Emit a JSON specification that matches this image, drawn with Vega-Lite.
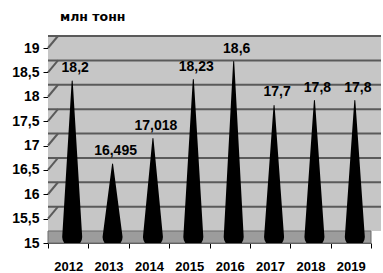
{
  "$schema": "https://vega.github.io/schema/vega-lite/v6.json",
  "width": 323,
  "height": 195,
  "autosize": {"type": "none"},
  "padding": {"left": 48, "top": 48, "right": 12, "bottom": 30},
  "background": "white",
  "title": {"text": "млн тонн", "anchor": "start", "frame": "group", "dx": 12, "offset": 12, "fontSize": 12.5, "fontWeight": "bold", "font": "DejaVu Sans", "color": "black"},
  "datasets": {
    "prod": [
      {"year": "2012", "value": 18.2, "base": 15},
      {"year": "2013", "value": 16.495, "base": 15},
      {"year": "2014", "value": 17.018, "base": 15},
      {"year": "2015", "value": 18.23, "base": 15},
      {"year": "2016", "value": 18.6, "base": 15},
      {"year": "2017", "value": 17.7, "base": 15},
      {"year": "2018", "value": 17.8, "base": 15},
      {"year": "2019", "value": 17.8, "base": 15}
    ],
    "grid": [{"g": 15.5}, {"g": 16}, {"g": 16.5}, {"g": 17}, {"g": 17.5}, {"g": 18}, {"g": 18.5}, {"g": 19}]
  },
  "layer": [
    {
      "data": {"values": [{}]},
      "mark": {"type": "rect", "color": "#b2b2b2", "y2Offset": -12, "x2Offset": 10},
      "encoding": {
        "y": {"datum": 15, "type": "quantitative", "scale": {"domain": [15, 19], "zero": false, "nice": false}, "title": null},
        "y2": {"datum": 19}
      }
    },
    {
      "data": {"values": [{}]},
      "mark": {"type": "rect", "color": "#c6c6c6", "yOffset": -12, "y2Offset": -12, "xOffset": 10, "x2Offset": 10},
      "encoding": {
        "y": {"datum": 15, "type": "quantitative", "title": null},
        "y2": {"datum": 19}
      }
    },
    {
      "data": {"name": "grid"},
      "mark": {"type": "rule", "color": "#5a5a5a", "strokeWidth": 2, "xOffset": -20.2, "x2Offset": -10.2, "y2Offset": -12},
      "encoding": {
        "x": {"datum": "2012", "type": "nominal", "title": null},
        "x2": {"datum": "2012"},
        "y": {"field": "g", "type": "quantitative", "title": null},
        "y2": {"field": "g"}
      }
    },
    {
      "data": {"name": "grid"},
      "mark": {"type": "rule", "color": "#5a5a5a", "strokeWidth": 2, "yOffset": -12, "xOffset": 10, "x2Offset": 10},
      "encoding": {
        "y": {"field": "g", "type": "quantitative", "title": null}
      }
    },
    {
      "data": {"values": [{}]},
      "mark": {"type": "rect", "color": "#9c9c9c", "stroke": "#6a6a6a", "strokeWidth": 1, "y2Offset": -12, "x2Offset": 10},
      "encoding": {
        "y": {"datum": 15, "type": "quantitative", "title": null},
        "y2": {"datum": 15}
      }
    },
    {
      "data": {"name": "prod"},
      "transform": [{"fold": ["base", "value"], "as": ["part", "v"]}],
      "mark": {"type": "trail", "color": "black", "xOffset": 4, "yOffset": -6, "clip": true},
      "encoding": {
        "x": {"field": "year", "type": "nominal", "scale": {"paddingInner": 0, "paddingOuter": 0}, "title": null},
        "y": {"field": "v", "type": "quantitative", "title": null},
        "detail": {"field": "year"},
        "order": {"field": "part"},
        "size": {"field": "part", "type": "ordinal", "scale": {"type": "ordinal", "domain": ["base", "value"], "range": [20, 0]}, "legend": null}
      }
    },
    {
      "data": {"name": "prod"},
      "mark": {"type": "text", "font": "Liberation Sans", "fontWeight": "bold", "fontSize": 14, "color": "black", "baseline": "middle", "xOffset": 7, "yOffset": -19},
      "encoding": {
        "x": {"field": "year", "type": "nominal", "title": null},
        "y": {"field": "value", "type": "quantitative", "title": null},
        "text": {"field": "value", "type": "quantitative", "format": "~f"}
      }
    }
  ],
  "config": {
    "locale": {"number": {"decimal": ",", "thousands": " ", "grouping": [3], "currency": ["", ""]}},
    "view": {"stroke": null},
    "axisY": {"grid": false, "tickCount": 8, "format": "~f", "domainColor": "black", "tickColor": "black", "tickSize": 5, "labelFont": "Liberation Sans", "labelFontWeight": "bold", "labelFontSize": 14, "labelColor": "black", "labelPadding": 4},
    "axisX": {"grid": false, "tickBand": "extent", "labelAngle": 0, "domainColor": "#555555", "tickColor": "black", "tickSize": 5, "labelFont": "Liberation Sans", "labelFontWeight": "bold", "labelFontSize": 13, "labelColor": "black", "labelPadding": 12}
  }
}
